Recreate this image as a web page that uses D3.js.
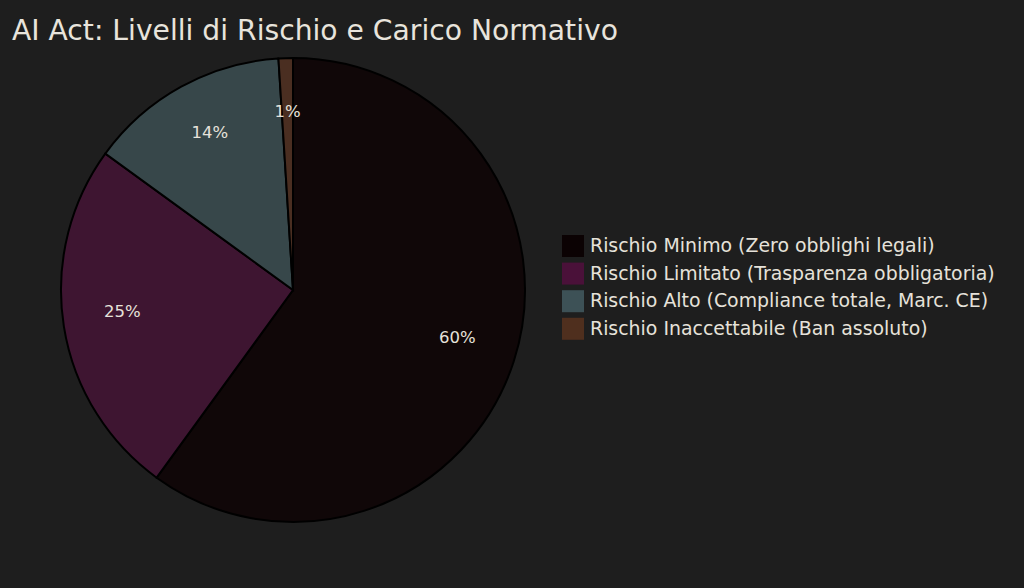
<!DOCTYPE html>
<html><head><meta charset="utf-8">
<script src="https://cdn.jsdelivr.net/npm/d3@7"></script>
<style>
html,body{margin:0;padding:0;background:#1e1e1e;}
svg{display:block;}
text{font-family:"DejaVu Sans",sans-serif;}
</style></head>
<body>
<svg id="c" width="1024" height="588"></svg>
<script>
const categories = ["Rischio Minimo (Zero obblighi legali)","Rischio Limitato (Trasparenza obbligatoria)","Rischio Alto (Compliance totale, Marc. CE)","Rischio Inaccettabile (Ban assoluto)"];
const values = [60, 25, 14, 1];
const sliceColors = ["#100708","#3e1531","#37474a","#4a2e21"];
const legendColors = ["#0b0203","#4a1139","#3d5156","#4f2f1e"];
const title = "AI Act: Livelli di Rischio e Carico Normativo";

const svg = d3.select("#c");
svg.append("rect").attr("width",1024).attr("height",588).attr("fill","#1e1e1e");
svg.append("text").attr("x",12).attr("y",40).attr("fill","#e8e4dc")
  .attr("font-size",28.2).text(title);

const cx = 293, cy = 290, r = 232;
const total = d3.sum(values);
const pie = d3.pie().sort(null).value(d=>d)(values);
const arc = d3.arc().innerRadius(0).outerRadius(r);
const labelArc = d3.arc().innerRadius(r*0.745).outerRadius(r*0.745);
const g = svg.append("g").attr("transform",`translate(${cx},${cy})`);
g.selectAll("path").data(pie).join("path")
  .attr("d",arc).attr("fill",(d,i)=>sliceColors[i])
  .attr("stroke","#000").attr("stroke-width",2);
g.selectAll("text").data(pie).join("text")
  .attr("transform",d=>`translate(${labelArc.centroid(d)})`)
  .attr("text-anchor","middle").attr("dy","-0.5")
  .attr("fill","#e6e2da").attr("font-size",16.5)
  .text(d=>Math.round(d.data/total*100)+"%");

const lg = svg.append("g").attr("transform","translate(562,235)");
const rows = lg.selectAll("g").data(categories).join("g")
  .attr("transform",(d,i)=>`translate(0,${i*27.6})`);
rows.append("rect").attr("width",22).attr("height",22).attr("fill",(d,i)=>legendColors[i]);
rows.append("text").attr("x",28).attr("y",17).attr("fill","#e6e2da")
  .attr("font-size",18.9).text(d=>d);
</script>
</body></html>
